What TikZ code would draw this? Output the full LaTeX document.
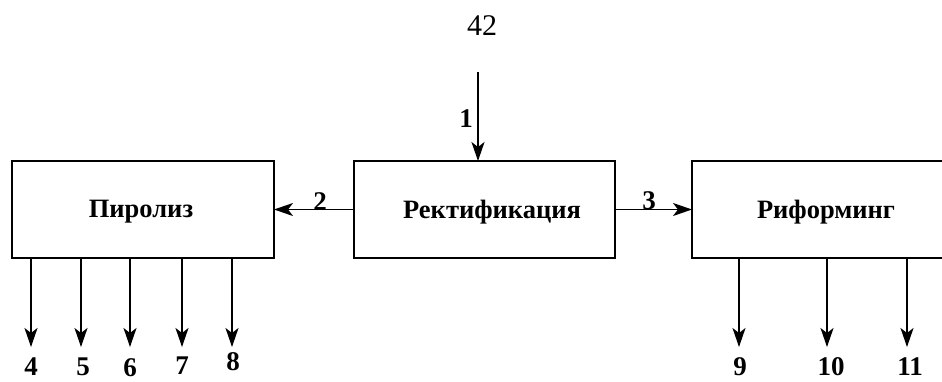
\documentclass[tikz,border=0pt]{standalone}
\usepackage{fontspec}
\setmainfont{Liberation Serif}
\usetikzlibrary{arrows.meta}
\begin{document}
\begin{tikzpicture}[x=1pt,y=-1pt,
  line width=1.8pt,
  block/.style={draw, inner sep=0pt, outer sep=0pt, line width=1.8pt},
  blocktext/.style={font=\fontsize{26.5}{30}\selectfont\bfseries},
  num/.style={font=\fontsize{27}{30}\selectfont\bfseries, inner sep=0pt},
  flow/.style={-{Stealth[length=19pt,width=13pt,inset=5pt]}, line width=1.8pt}
]
\useasboundingbox (0,0) rectangle (942,381);

% page number
\node[font=\fontsize{30}{32}\selectfont, inner sep=0pt] (page) at (482,26) {42};

% process blocks
\node[block, minimum width=262pt, minimum height=97pt] (pyro) at (143,209.5) {};
\node[blocktext] at (141,212) {Пиролиз};
\node[block, minimum width=261pt, minimum height=97pt] (rect) at (484.5,209.5) {};
\node[blocktext] at (492,212) {Ректификация};
% reforming block runs off the right edge (open on the right)
\node[inner sep=0pt, outer sep=0pt, minimum width=250pt, minimum height=97pt] (ref) at (817,209.5) {};
\draw[line width=1.8pt] (ref.north east) -- (ref.north west) -- (ref.south west) -- (ref.south east);
\node[blocktext] at (826,212) {Риформинг};

% feed 1
\coordinate (feed) at (478,72);
\draw[flow] (feed) -- (feed |- rect.north);
\node[num] (n1) at (466,119) {1};

% streams 2 and 3
\draw[flow] (rect.west) -- (pyro.east);
\node[num] (n2) at (320,202) {2};
\draw[flow] (rect.east) -- (ref.west);
\node[num] (n3) at (649,201) {3};

% pyrolysis products
\foreach \x/\lx/\ly/\t in {31/31/367/4, 81/83/367/5, 130/130/368/6, 182/182/366/7, 232/233/362/8}{
  \coordinate (p\t) at (\x,347);
  \draw[flow] (p\t |- pyro.south) -- (p\t);
  \node[num] (n\t) at (\lx,\ly) {\t};
}

% reforming products
\foreach \x/\lx/\t in {739/740/9, 827/831/10, 907/910/11}{
  \coordinate (p\t) at (\x,347);
  \draw[flow] (p\t |- ref.south) -- (p\t);
  \node[num] (n\t) at (\lx,367) {\t};
}
\end{tikzpicture}
\end{document}
